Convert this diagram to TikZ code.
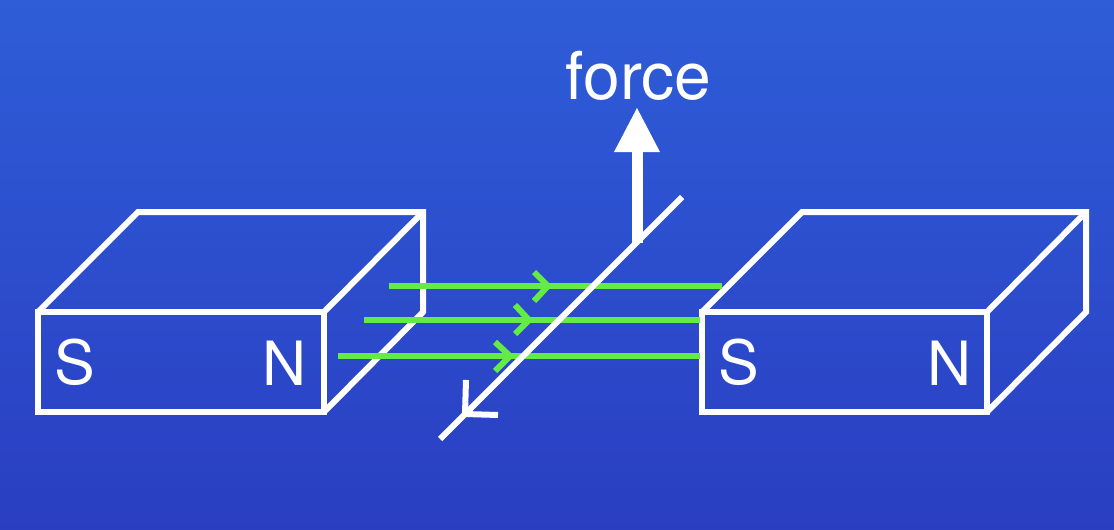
\documentclass[tikz,border=0pt]{standalone}
\usepackage{fontspec}
\setmainfont{TeX Gyre Heros}
\definecolor{bgtop}{RGB}{46,93,216}
\definecolor{bgbot}{RGB}{42,62,194}
\definecolor{fieldgreen}{RGB}{100,235,70}
\tikzset{
  magnet/.style={draw=white,line width=6pt,line join=miter},
  fieldline/.style={draw=fieldgreen,line width=6pt},
  fieldtip/.style={draw=fieldgreen,line width=6pt,line join=miter},
  wire/.style={draw=white,line width=6pt},
  pole/.style={text=white,font=\fontsize{61}{61}\selectfont,inner sep=0pt,anchor=center},
}
\begin{document}
\begin{tikzpicture}[x=1pt,y=-1pt]
\useasboundingbox (0,0) rectangle (1114,530);
\shade[top color=bgtop,bottom color=bgbot,shading angle=0,middle color=bgtop!50!bgbot] (0,0) rectangle (1114,530);
% left magnet
\draw[magnet] (38,312) rectangle (324,412);
\draw[magnet] (38,312) -- (138,212) -- (423,212) -- (423,312) -- (324,412);
\draw[magnet] (324,312) -- (423,212);
% right magnet
\draw[magnet] (702,312) rectangle (987,412);
\draw[magnet] (702,312) -- (802,212) -- (1086,212) -- (1086,312) -- (987,412);
\draw[magnet] (987,312) -- (1086,212);
\node[pole] (s1) at (75,362) {S};
\node[pole] (n1) at (285,363) {N};
\node[pole] (s2) at (739,362) {S};
\node[pole] (n2) at (950,363) {N};
% field lines
\coordinate (a1) at (389,286); \coordinate (b1) at (722,286);
\coordinate (a2) at (364,320); \coordinate (b2) at (700,320);
\coordinate (a3) at (338,356); \coordinate (b3) at (700,356);
\draw[fieldline] (a1) -- (b1);
\draw[fieldline] (a2) -- (b2);
\draw[fieldline] (a3) -- (b3);
\draw[fieldtip] (534,272) -- (548,286) -- (534,301);
\draw[fieldtip] (515,305) -- (529,320) -- (515,334);
\draw[fieldtip] (495,342) -- (510,356) -- (495,371);
% wire
\coordinate (w1) at (682,197); \coordinate (w2) at (440,439);
\draw[wire] (w1) -- (w2);
\draw[wire] (466,380) -- (465,414) -- (498,415);
% force
\node[text=white,font=\fontsize{66}{66}\selectfont,inner sep=0pt,anchor=base] (force) at (638.5,99) {force};
\coordinate (f0) at (637,243); \coordinate (f1) at (637,150);
\draw[white,line width=11pt] (f0) -- (f1);
\fill[white] (637,108) -- (660,152) -- (614,152) -- cycle;
\end{tikzpicture}
\end{document}
